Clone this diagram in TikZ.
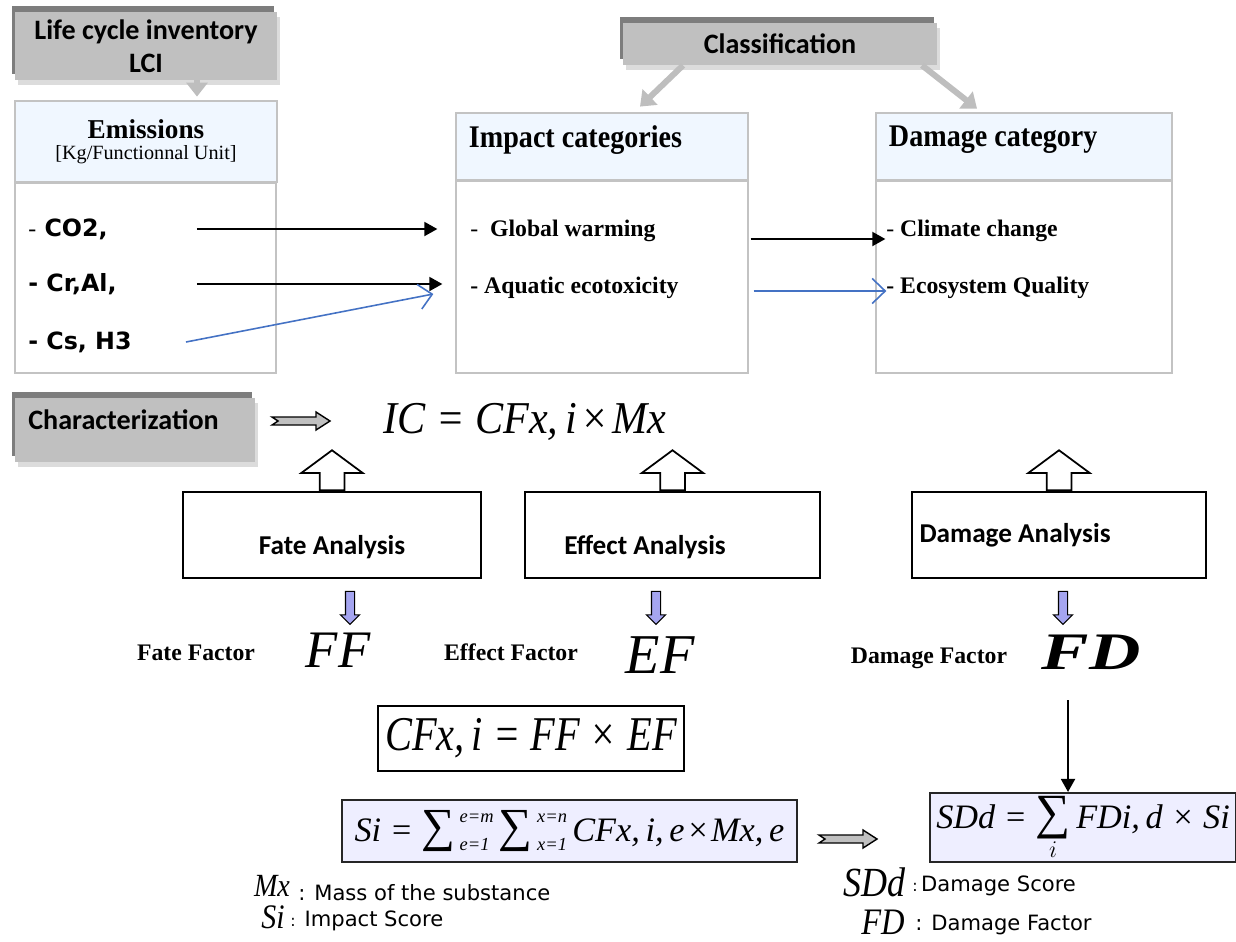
\documentclass[tikz,border=0pt]{standalone}
\usepackage{fix-cm}
\usepackage{fontspec}
\usepackage{graphicx}
\setmainfont{Liberation Serif}
\newfontfamily\calibri{Carlito}
\newfontfamily\verdana{DejaVu Sans}
\usepackage{tikz}
\usetikzlibrary{arrows.meta, positioning, calc, shapes.arrows, shadows}
\definecolor{boxgray}{RGB}{192,192,192}
\definecolor{shadowdark}{RGB}{125,125,125}
\definecolor{shadowlight}{RGB}{220,220,220}
\definecolor{headfill}{RGB}{240,247,255}
\definecolor{framegray}{RGB}{195,195,195}
\definecolor{linkblue}{RGB}{68,114,196}
\definecolor{formulafill}{RGB}{238,238,255}
\definecolor{downfill}{RGB}{165,165,240}
\definecolor{tailgray}{RGB}{190,190,190}
\newcommand{\limtext}[1]{{\fontsize{10.5}{11}\selectfont #1}}
\newcommand{\sumlim}[2]{{\upshape\fontsize{27}{27}\selectfont ∑}\kern2.5pt\rlap{\raisebox{11pt}{\limtext{#2}}}\rlap{\raisebox{-5pt}{\limtext{#1}}}\hphantom{\limtext{#2}}\kern3pt}
\newcommand{\sumbelow}[1]{$\mathop{\hbox{\upshape\fontsize{28}{28}\selectfont ∑}}\limits_{#1}$}
\newcommand{\tallvar}[1]{\scalebox{1}[1.15]{#1}}
\tikzset{
  stagebox/.style={
    fill=boxgray,
    inner sep=0pt,
    align=center,
    font=\calibri\bfseries\fontsize{16}{19}\selectfont,
    copy shadow={shadow xshift=-0.06cm, shadow yshift=0.13cm, fill=shadowdark, draw=none},
    copy shadow={shadow xshift=0.06cm, shadow yshift=-0.1cm, fill=shadowlight, draw=none}
  },
  stagetext/.style={
    anchor=west,
    inner sep=0pt,
    font=\calibri\bfseries\fontsize{16}{19}\selectfont
  },
  headbox/.style={
    draw=framegray,
    line width=1.6pt,
    fill=headfill,
    inner sep=0pt
  },
  headtext/.style={
    anchor=west,
    inner sep=0pt,
    font=\bfseries\fontsize{16}{19}\selectfont
  },
  listbox/.style={
    draw=framegray,
    line width=0.8pt,
    inner sep=0pt
  },
  emitem/.style={
    anchor=west,
    inner sep=0pt,
    font=\verdana\bfseries\fontsize{13.5}{16}\selectfont
  },
  catitem/.style={
    anchor=west,
    inner sep=0pt,
    font=\bfseries\fontsize{13.5}{16}\selectfont
  },
  anabox/.style={
    draw=black,
    line width=1pt,
    inner sep=0pt,
    minimum height=1.72cm
  },
  anatext/.style={
    inner sep=0pt,
    font=\calibri\bfseries\fontsize{15.5}{18.5}\selectfont
  },
  openup/.style={
    single arrow,
    shape border rotate=90,
    anchor=tail,
    draw=black,
    fill=white,
    line width=1pt,
    inner sep=0.23cm,
    single arrow head extend=0.37cm,
    single arrow tip angle=107,
    minimum height=0.8cm
  },
  downarrow/.style={
    single arrow,
    shape border rotate=270,
    anchor=tail,
    draw=black,
    fill=downfill,
    line width=0.6pt,
    inner sep=0.08cm,
    single arrow head extend=0.1cm,
    minimum height=0.66cm
  },
  factortext/.style={
    inner sep=0pt,
    font=\bfseries\fontsize{13.5}{16}\selectfont
  },
  bigvar/.style={
    inner sep=0pt,
    font=\itshape\fontsize{30}{34}\selectfont
  },
  formula/.style={
    inner sep=0pt,
    font=\itshape\fontsize{24}{28}\selectfont
  },
  cfbox/.style={
    draw=black,
    line width=1.2pt,
    inner sep=0pt,
    font=\itshape\fontsize{23}{27}\selectfont
  },
  sumbox/.style={
    draw=black!85,
    line width=1.2pt,
    fill=formulafill,
    inner sep=0pt,
    font=\itshape\fontsize{19.5}{24}\selectfont
  },
  legvar/.style={
    inner sep=0pt,
    font=\itshape\fontsize{17}{20}\selectfont
  },
  legtext/.style={
    anchor=west,
    inner sep=0pt,
    font=\verdana\fontsize{12}{14}\selectfont
  },
  feedarrow/.style={-{Triangle[length=0.26cm,width=0.28cm]}, line width=1.1pt},
  bluearrow/.style={-{Straight Barb[length=0.26cm,width=0.5cm]}, linkblue, line width=0.9pt},
  greyarrow/.style={-{Triangle[length=0.28cm,width=0.42cm]}, tailgray, line width=0.12cm},
  notcharrow/.pic={
    \draw[fill=boxgray, line width=0.8pt] (-29,-4) -- (15,-4) -- (15,-9) -- (29,0) -- (15,9) -- (15,4) -- (-29,4) -- (-23,0) -- cycle;
  }
}

\begin{document}
\begin{tikzpicture}[x=0.02cm, y=-0.02cm]
\useasboundingbox (0,0) rectangle (1236,941);

\node[stagebox, minimum width=5.24cm, minimum height=1.36cm] (lci) at (146,46) {Life cycle inventory\\LCI};
\node[stagebox, minimum width=6.28cm, minimum height=0.84cm] (classif) at (780,44) {Classification};

\node[headbox, minimum width=5.24cm, minimum height=1.62cm, align=center] (emhead) at (146,141.5)
{{\bfseries\fontsize{15.5}{18}\selectfont Emissions}\\{\fontsize{11.5}{14}\selectfont [Kg/Functionnal Unit]}};
\node[headbox, minimum width=5.84cm, minimum height=1.34cm] (imphead) at (602,146.5) {};
\node[headbox, minimum width=5.92cm, minimum height=1.34cm] (damhead) at (1024,146.5) {};
\node[headtext] (imptxt) at ([xshift=0.28cm, yshift=0.13cm]imphead.west) {\scalebox{1}[1.12]{Impact categories}};
\node[headtext] (damtxt) at ([xshift=0.28cm, yshift=0.13cm]damhead.west) {\scalebox{1}[1.12]{Damage category}};

\node[listbox, minimum width=5.22cm, minimum height=3.8cm] (emlist) at (145.5,278) {};
\node[listbox, minimum width=5.84cm, minimum height=3.84cm] (implist) at (602,277) {};
\node[listbox, minimum width=5.92cm, minimum height=3.84cm] (damlist) at (1024,277) {};

\node[emitem] (co2) at (28,229) {{\rmfamily\mdseries -} CO2,};
\node[emitem] (cral) at (28,284) {- Cr,Al,};
\node[emitem] (csh) at (28,342) {- Cs, H3};
\node[catitem] (gw) at (470,231) {{\mdseries -}\ \ Global warming};
\node[catitem] (aq) at (470,288) {- Aquatic ecotoxicity};
\node[catitem] (cc) at (886,231) {{\mdseries -} Climate change};
\node[catitem] (eq) at (886,288) {- Ecosystem Quality};

\draw[greyarrow] ([xshift=1.02cm]lci.south) -- ([xshift=1.02cm, yshift=0.06cm]emhead.north);
\draw[greyarrow] ([xshift=-1.94cm]classif.south) -- ([xshift=0.76cm, yshift=0.1cm]imphead.north);
\draw[greyarrow] ([xshift=2.84cm]classif.south) -- ([xshift=-0.94cm, yshift=0.06cm]damhead.north);

\draw[feedarrow] ([xshift=1.03cm]co2.west -| emlist.center) -- ([xshift=-0.36cm]co2.west -| implist.west);
\draw[feedarrow] ([xshift=1.03cm]cral.west -| emlist.center) -- ([xshift=-0.26cm]cral.west -| implist.west);
\draw[bluearrow] ([xshift=0.81cm]csh.west -| emlist.center) -- ([xshift=-0.44cm, yshift=-0.2cm]cral.west -| implist.west);
\draw[feedarrow] ([xshift=0.04cm, yshift=-0.16cm]gw.west -| implist.east) -- ([xshift=0.2cm, yshift=-0.16cm]gw.west -| damlist.west);
\draw[bluearrow] ([xshift=0.1cm, yshift=-0.06cm]aq.west -| implist.east) -- ([xshift=0.22cm, yshift=-0.06cm]aq.west -| damlist.west);

\node[stagebox, minimum width=4.8cm, minimum height=1.28cm] (charac) at (135,430) {};
\node[stagetext] (chartxt) at (28,420) {Characterization};
\pic at (301,421) {notcharrow};
\node[formula] (icf) at (525,422) {\scalebox{1}[1.08]{IC = CFx,\,i\kern2pt×\kern2pt Mx}};

\node[anabox, minimum width=5.96cm] (fate) at (332,535) {};
\node[anabox, minimum width=5.9cm] (effect) at (672.5,535) {};
\node[anabox, minimum width=5.88cm] (damage) at (1059,535) {};
\node[anatext] (fatetxt) at ([yshift=-0.24cm]fate.center) {Fate Analysis};
\node[anatext] (effecttxt) at ([xshift=-0.55cm, yshift=-0.24cm]effect.center) {Effect Analysis};
\node[anatext, anchor=west] (damagetxt) at ([xshift=0.16cm]damage.west) {Damage Analysis};

\node[openup] (fateup) at (fate.north) {};
\node[openup] (effectup) at (effect.north) {};
\node[openup] (damageup) at (damage.north) {};

\node[downarrow] (fatedown) at ([xshift=0.36cm, yshift=-0.24cm]fate.south) {};
\node[downarrow] (effectdown) at ([xshift=-0.33cm, yshift=-0.24cm]effect.south) {};
\node[downarrow] (damagedown) at ([xshift=0.08cm, yshift=-0.24cm]damage.south) {};

\node[factortext] (fflabel) at (196,653) {Fate Factor};
\node[bigvar] (ff) at (338,650) {FF};
\node[factortext] (eflabel) at (511,652) {Effect Factor};
\node[bigvar, font=\itshape\fontsize{32}{36}\selectfont] (ef) at (660,655) {EF};
\node[factortext] (fdlabel) at (929,658) {Damage Factor};
\node[bigvar] (fd) at (1091,652) {\bfseries\scalebox{1.35}[1]{FD}};

\node[cfbox, minimum width=6.12cm, minimum height=1.3cm] (cfeq) at (531,738.5) {\scalebox{1}[1.2]{CFx,\,i = FF × EF}};
\node[sumbox, minimum width=9.1cm, minimum height=1.24cm] (sieq) at (569.5,831)
{Si = \sumlim{e=1}{e=m}\sumlim{x=1}{x=n}CFx,\,i,\,e\kern1pt×\kern1pt Mx,\,e};
\node[sumbox, minimum width=6.12cm, minimum height=1.38cm] (sddeq) at (1083,827.5)
{SDd = \sumbelow{i}\,FDi,\,d × Si};
\pic at (848,839) {notcharrow};
\draw[feedarrow] ([xshift=-0.46cm, yshift=-0.96cm]fd.center) -- ([xshift=-0.46cm]fd.center |- sddeq.north);

\node[legvar, font=\itshape\fontsize{16}{19}\selectfont] (mxv) at (272,886) {\tallvar{Mx}};
\node[legtext] (mxt) at (298,893) {: Mass of the substance};
\node[legvar] (siv) at (273,917) {\tallvar{Si}};
\node[legtext] (sit) at (290,921) {{\fontsize{9}{10}\selectfont :} Impact Score};
\node[legvar, font=\itshape\fontsize{20.5}{24}\selectfont] (sddv) at (874,882) {\tallvar{SDd}};
\node[legtext] (sddt) at (912,886) {{\fontsize{9}{10}\selectfont :}\,Damage Score};
\node[legvar, font=\itshape\fontsize{18.5}{22}\selectfont] (fdv) at (883,922) {\tallvar{FD}};
\node[legtext] (fdt) at (915,925) {: Damage Factor};
\end{tikzpicture}
\end{document}
